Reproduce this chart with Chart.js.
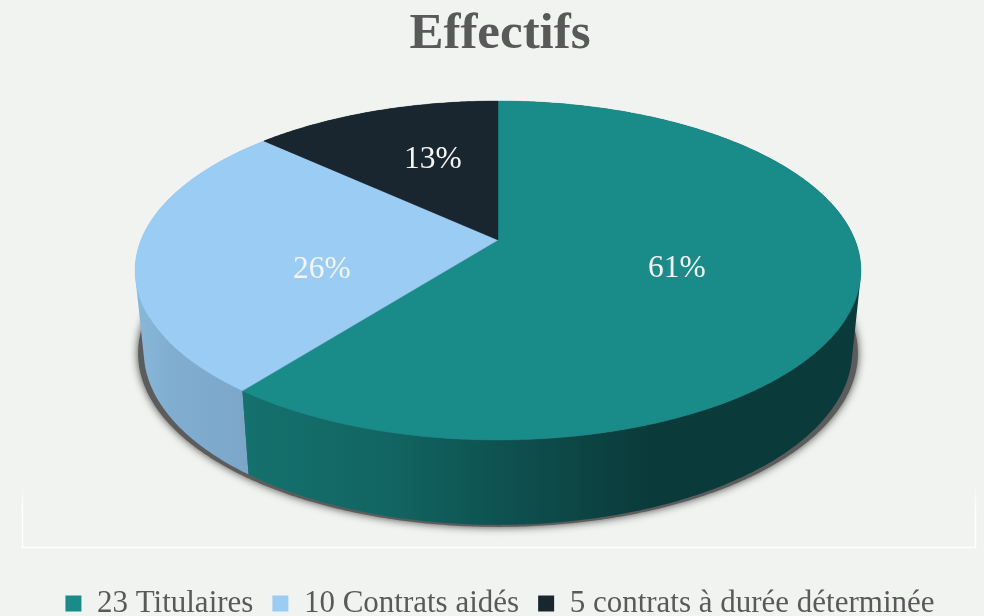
<!DOCTYPE html>
<html lang="fr"><head><meta charset="utf-8">
<style>html,body{margin:0;padding:0;background:#f1f3f0;overflow:hidden}#w{width:984px;height:616px;position:relative}</style>
<script src="https://cdn.jsdelivr.net/npm/chart.js@4"></script>
</head><body><div id="w"><canvas id="c" width="984" height="616"></canvas></div>
<script>
const titleText = "Effectifs";
const categories = ["23 Titulaires", "10 Contrats aidés", "5 contrats à durée déterminée"];
const values = [23, 10, 5];
const sliceColors = ["#198c8a", "#9bcdf4", "#19262f"];
const bgColor = "#f1f3f0", textColor = "#595959";

// perspective projection of the unit disc
const P = {dx:-2, cy:240, k:-0.18, c:357, b:164, sx:0.976, by:320, bb:168};
const top3 = (cx,u,v,r=1)=>{const d=1+P.k*v*r;return [cx+P.c*u*r/d, P.cy+P.b*v*r/d];};
const low3 = (cx,u,v)=>{const d=1+P.k*v;return [cx+P.sx*P.c*u/d, P.by+P.bb*v/d];};
const wallStops = [
  [[0,"#8ab8da"],[0.3,"#80aed1"],[1,"#7ba6c8"]],
  [[0,"#14716d"],[0.35,"#126563"],[0.6,"#0e5452"],[1,"#0b3a3a"]]
];
const labelNudge = [[5,1],[3,23],[1,-11]];

function arcPts(a0,a1,fn){const n=Math.max(8,Math.ceil((a1-a0)/0.01));const o=[];for(let i=0;i<=n;i++){const a=a0+(a1-a0)*i/n;o.push(fn(Math.cos(a),Math.sin(a)));}return o;}
function poly(ctx,pts){ctx.beginPath();pts.forEach((p,i)=>i?ctx.lineTo(p[0],p[1]):ctx.moveTo(p[0],p[1]));ctx.closePath();}
function wallPath(ctx,a0,a1,cx){
  const t=arcPts(a0,a1,(u,v)=>top3(cx,u,v)), l=arcPts(a0,a1,(u,v)=>low3(cx,u,v));
  ctx.beginPath();
  for(let i=0;i<t.length-1;i++){
    let q=[t[i],t[i+1],l[i+1],l[i]];
    let area=0;q.forEach((p,j)=>{const n=q[(j+1)%4];area+=p[0]*n[1]-n[0]*p[1];});
    if(area<0)q=q.reverse();
    ctx.moveTo(q[0][0],q[0][1]);for(let j=1;j<4;j++)ctx.lineTo(q[j][0],q[j][1]);ctx.closePath();
  }
}

const pie3d = {
  id:"pie3d",
  beforeDraw(ch){const x=ch.ctx;x.save();x.fillStyle=bgColor;x.fillRect(0,0,ch.width,ch.height);
    const gl=x.createLinearGradient(0,482,0,510);gl.addColorStop(0,"rgba(255,255,255,0)");gl.addColorStop(1,"#ffffff");
    x.strokeStyle=gl;x.lineWidth=1.5;x.beginPath();x.moveTo(22.5,482);x.lineTo(22.5,547.5);x.lineTo(975.5,547.5);x.lineTo(975.5,482);x.stroke();x.restore();},
  beforeDatasetDraw(ch,args){
    const x=ch.ctx, m=ch.getDatasetMeta(args.index), arcs=m.data, cx=arcs[0].x+P.dx;
    x.save();
    // drop shadow
    x.save();x.shadowColor="rgba(70,70,70,1)";x.shadowBlur=8;x.fillStyle="#5c5c5c";
    poly(x,arcPts(0,Math.PI*2,(u,v)=>{const p=low3(cx,u,v);return [p[0]+(p[0]-cx)*0.016,p[1]+2];}));x.fill();x.restore();
    // walls
    [2,1,0].forEach(i=>{const s=arcs[i];
      if(i===2){x.fillStyle="#111a20";}else{
        const st=i===0?wallStops[1]:wallStops[0];
        const g=i===0?x.createLinearGradient(245,0,650,0):x.createLinearGradient(135,0,250,0);
        st.forEach(c=>g.addColorStop(c[0],c[1]));x.fillStyle=g;}
      wallPath(x,s.startAngle,s.endAngle,cx);x.fill();});
    // top faces
    arcs.forEach((s,i)=>{const pts=[top3(cx,0,0)].concat(arcPts(s.startAngle,s.endAngle,(u,v)=>top3(cx,u,v)));
      x.fillStyle=sliceColors[i];x.strokeStyle=sliceColors[i];x.lineWidth=0.4;poly(x,pts);x.fill();x.stroke();});
    // value labels
    const tot=values.reduce((a,b)=>a+b,0);
    x.fillStyle="#f4f4f2";x.font='31.5px "Liberation Serif"';x.textAlign="center";x.textBaseline="middle";
    arcs.forEach((s,i)=>{const a=(s.startAngle+s.endAngle)/2;const p=top3(cx,Math.cos(a),Math.sin(a),0.5);
      x.fillText(Math.round(values[i]/tot*100)+"%",p[0]+labelNudge[i][0],p[1]+labelNudge[i][1]);});
    x.restore();
    return false;
  }
};

new Chart(document.getElementById("c"),{
  type:"pie",
  data:{labels:categories,datasets:[{data:values,backgroundColor:sliceColors,borderWidth:0}]},
  options:{
    responsive:false,animation:false,
    layout:{padding:{left:16,top:0,bottom:-13}},
    plugins:{
      title:{display:true,text:titleText,color:textColor,font:{family:"Liberation Serif",size:51,weight:"bold"},padding:{top:4,bottom:10}},
      legend:{position:"bottom",labels:{color:textColor,boxWidth:16,boxHeight:16,padding:19,font:{family:"Liberation Serif",size:31}}},
      tooltip:{enabled:false}
    }
  },
  plugins:[pie3d]
});
</script></body></html>
